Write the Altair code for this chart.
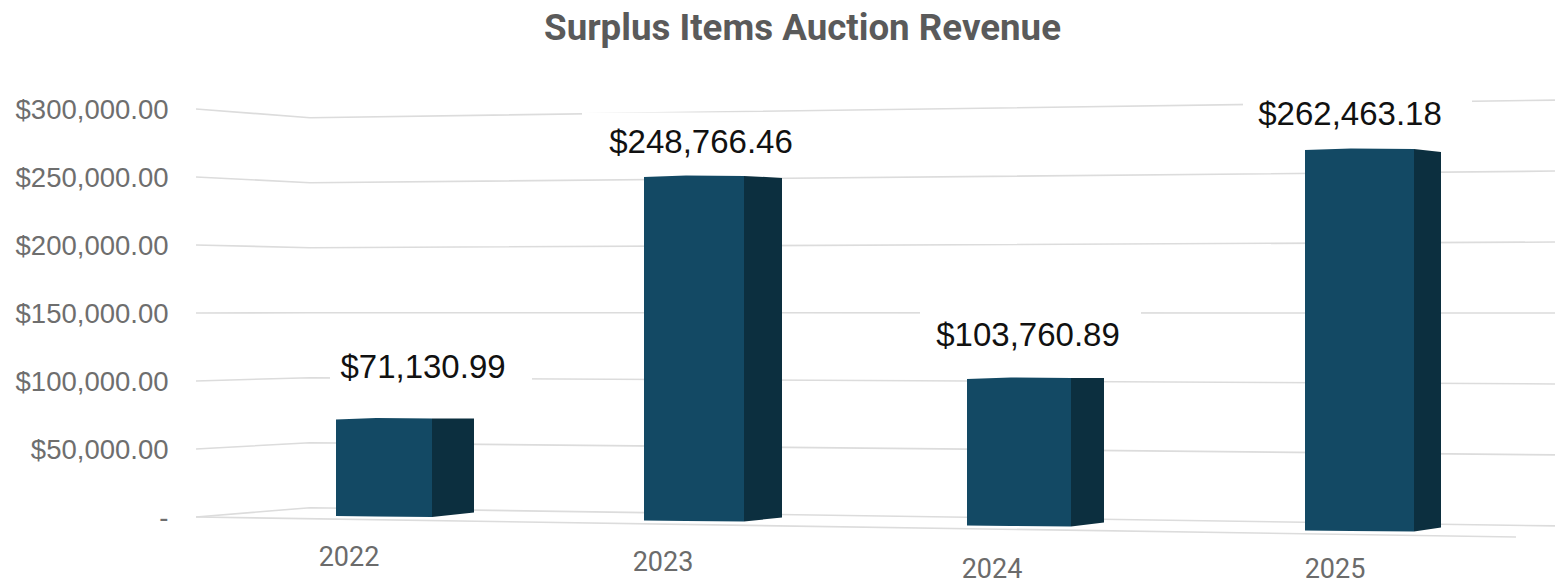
import altair as alt
import pandas as pd

# ---- chart values -------------------------------------------------------
years = ["2022", "2023", "2024", "2025"]
revenue = [71130.99, 248766.46, 103760.89, 262463.18]
ticks = [0, 50000, 100000, 150000, 200000, 250000, 300000]

# ---- 3-D look: perspective settings, apart from the values --------------
PAGE_Y0, PX_PER_K = 518.0, 68 / 50000


def level(page_y):
    """Page row -> dollars on the value scale (wall plane)."""
    return (PAGE_Y0 - page_y) / PX_PER_K


face_left = [336, 644, 967, 1305]
face_right = [432, 744, 1071, 1414]
side_right = [474, 782, 1104, 1441]
floor_y = [516.5, 521, 526, 531]
stretch = [1.013, 1.02, 1.049, 1.07]
side_rise = [4, 3.5, 3.5, 3.5]
side_drop = [0, 2, 0, 3]
label_x = [423, 701, 1028, 1350]
label_y = [368, 143, 336, 115]
mask_x = [431, 701, 1030.5, 1357.5]
mask_half = [101, 119, 110.5, 114.5]
mask_top = [355, 112.5, 312, 99]
mask_bottom = [392, 170, 360, 132]
cat_x = [349, 663, 992, 1335]
cat_y = [558, 562.5, 569.5, 569.5]

LEFT, CORNER, RIGHT = 196, 310, 1563
WALL_SHIFT = level(517)
CORNER_FLOOR, RIGHT_FLOOR = 507.7, 526
CORNER_K, RIGHT_K = 65 / 68, 71 / 68

# ---- tables for the marks ------------------------------------------------
grid_rows = []
for v in ticks:
    grid_rows.append({"g": v, "x": LEFT, "y": v + WALL_SHIFT})
    grid_rows.append({"g": v, "x": CORNER, "y": level(CORNER_FLOOR) + v * CORNER_K})
    grid_rows.append({"g": v, "x": RIGHT, "y": level(RIGHT_FLOOR) + v * RIGHT_K})
grid_rows.append({"g": -1, "x": LEFT, "y": WALL_SHIFT})
grid_rows.append({"g": -1, "x": 1516, "y": level(537)})
grid = pd.DataFrame(grid_rows)

front_rows, side_rows, label_rows, cat_rows, mask_rows = [], [], [], [], []
for i, yr in enumerate(years):
    base = level(floor_y[i])
    top = base + revenue[i] * stretch[i]
    one_px = 1 / PX_PER_K
    mid_x = face_left[i] + 0.42 * (face_right[i] - face_left[i])
    front_rows += [
        {"yr": yr, "x": face_left[i], "y": top - one_px, "y2": base + one_px * 0.5},
        {"yr": yr, "x": mid_x, "y": top + 0.5 * one_px, "y2": base},
        {"yr": yr, "x": face_right[i], "y": top, "y2": base - one_px * 0.5},
    ]
    side_rows += [
        {"yr": yr, "x": face_right[i], "y": top, "y2": base - one_px * 0.5},
        {"yr": yr, "x": side_right[i], "y": top - side_drop[i] * one_px, "y2": base + side_rise[i] * one_px},
    ]
    label_rows.append({"x": label_x[i], "y": level(label_y[i]), "t": "${:,.2f}".format(revenue[i])})
    cat_rows.append({"x": cat_x[i], "y": level(cat_y[i]), "t": yr})
    mask_rows.append({"x": mask_x[i] - mask_half[i], "x2": mask_x[i] + mask_half[i],
                      "y": level(mask_top[i]), "y2": level(mask_bottom[i])})
front, side = pd.DataFrame(front_rows), pd.DataFrame(side_rows)
labels, cats, masks = pd.DataFrame(label_rows), pd.DataFrame(cat_rows), pd.DataFrame(mask_rows)

# ---- scales ---------------------------------------------------------------
# The plot area spans page columns 196..1555 and page rows 60..583.
xs = alt.Scale(domain=[196, 1555], nice=False, zero=False)
ys = alt.Scale(domain=[level(583), level(60)], nice=False, zero=False)
value_axis = alt.Axis(
    values=ticks, title=None, grid=False, domain=False, ticks=False,
    labelFont="Liberation Sans", labelFontSize=27.5, labelColor="#6e6e6e",
    labelPadding=28, labelLimit=300,
    labelExpr="datum.value === 0 ? '-' : format(datum.value, '$,.2f')")
X = alt.X("x:Q", scale=xs, axis=None)
Y = alt.Y("y:Q", scale=ys, axis=value_axis)

grid_layer = alt.Chart(grid).mark_line(color="#dcdcdc", strokeWidth=1.6, clip=True).encode(x=X, y=Y, detail="g:N")
mask_layer = alt.Chart(masks).mark_rect(color="white").encode(x=X, x2="x2:Q", y=Y, y2="y2:Q")
front_layer = alt.Chart(front).mark_area(color="#134964", opacity=1).encode(x=X, y=Y, y2="y2:Q", detail="yr:N")
side_layer = alt.Chart(side).mark_area(color="#0c2f3f", opacity=1).encode(x=X, y=Y, y2="y2:Q", detail="yr:N")
label_layer = alt.Chart(labels).mark_text(
    font="Liberation Sans", fontSize=33, color="#111111", align="center", baseline="middle"
).encode(x=X, y=Y, text="t:N")
cat_layer = alt.Chart(cats).mark_text(
    font="Roboto", fontSize=27, color="#6b6b6b", align="center", baseline="middle"
).encode(x=X, y=Y, text="t:N")

chart = (
    alt.layer(grid_layer, mask_layer, front_layer, side_layer, label_layer, cat_layer)
    .properties(
        width=1359,
        height=523,
        padding={"left": 188, "top": 52, "right": 0, "bottom": 0},
        autosize=alt.AutoSizeParams(type="none"),
        title=alt.TitleParams(
            "Surplus Items Auction Revenue", font="Roboto", fontSize=36.7, fontWeight="bold",
            color="#5a5a5a", anchor="middle", dx=-73, offset=12, limit=800,
        ),
    )
    .configure_view(strokeWidth=0)
)
chart.save("out.html", embed_options={"renderer": "svg", "actions": False})
